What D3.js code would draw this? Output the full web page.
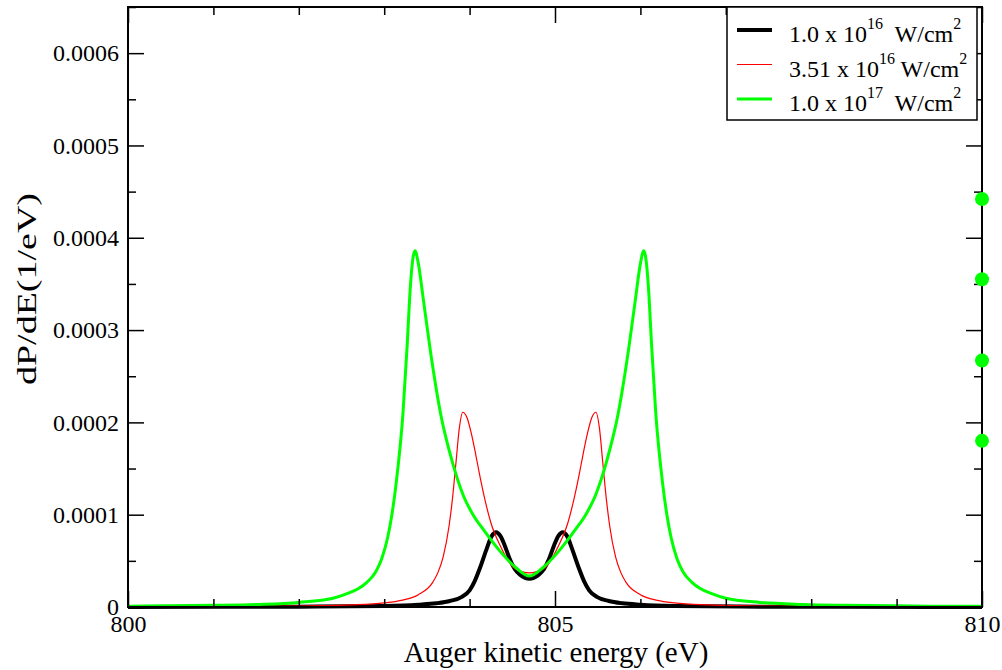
<!DOCTYPE html>
<meta charset="utf-8">
<style>
  body { margin: 0; background: #fff; }
  svg text { font-family: "Liberation Serif", "Times New Roman", serif; }
</style>
<body>
<script src="https://d3js.org/d3.v7.min.js"></script>
<script>

// ---- data (energy in eV, dP/dE in 1/eV) ----
var energyBlack = [800, 802, 803, 803.4, 803.61, 803.77, 803.91, 804.0, 804.06, 804.12, 804.2, 804.26, 804.31, 804.36, 804.41, 804.47, 804.53, 804.59, 804.65, 804.7,
                   804.75, 804.81, 804.87, 804.93, 804.99, 805.04, 805.09, 805.14, 805.2, 805.28, 805.34, 805.4, 805.49, 805.63, 805.79, 806.0, 806.4, 807.4, 809.4, 810];
var dpdeBlack = [0.001e-4, 0.004e-4, 0.012e-4, 0.025e-4, 0.04e-4, 0.065e-4, 0.11e-4, 0.18e-4, 0.28e-4, 0.42e-4, 0.63e-4, 0.77e-4, 0.81e-4, 0.77e-4, 0.67e-4, 0.52e-4, 0.41e-4, 0.35e-4, 0.315e-4, 0.305e-4,
                 0.315e-4, 0.35e-4, 0.41e-4, 0.52e-4, 0.67e-4, 0.77e-4, 0.81e-4, 0.77e-4, 0.63e-4, 0.42e-4, 0.28e-4, 0.18e-4, 0.11e-4, 0.065e-4, 0.04e-4, 0.025e-4, 0.012e-4, 0.004e-4, 0.001e-4, 0.001e-4];

var energyRed = [800, 801, 802, 802.6, 803, 803.2, 803.4, 803.57, 803.63, 803.69, 803.76, 803.8, 803.84, 803.88, 803.92, 803.97, 804.02, 804.07, 804.12, 804.18, 804.25, 804.36, 804.51, 804.62, 804.7,
                 804.78, 804.89, 805.04, 805.15, 805.22, 805.28, 805.33, 805.38, 805.43, 805.48, 805.52, 805.56, 805.6, 805.64, 805.71, 805.77, 805.83, 806.0, 806.2, 806.4, 806.8, 807.4, 808.4, 809.4, 810];
var dpdeRed = [0.0025e-4, 0.0045e-4, 0.01e-4, 0.022e-4, 0.044e-4, 0.072e-4, 0.133e-4, 0.27e-4, 0.375e-4, 0.54e-4, 0.88e-4, 1.18e-4, 1.56e-4, 1.94e-4, 2.11e-4, 2.05e-4, 1.88e-4, 1.66e-4, 1.42e-4, 1.16e-4, 0.91e-4, 0.66e-4, 0.43e-4, 0.38e-4, 0.37e-4,
               0.38e-4, 0.43e-4, 0.66e-4, 0.91e-4, 1.16e-4, 1.42e-4, 1.66e-4, 1.88e-4, 2.05e-4, 2.11e-4, 1.94e-4, 1.56e-4, 1.18e-4, 0.88e-4, 0.54e-4, 0.375e-4, 0.27e-4, 0.133e-4, 0.072e-4, 0.044e-4, 0.022e-4, 0.01e-4, 0.0045e-4, 0.0025e-4, 0.002e-4];

var energyGreen = [800, 801, 801.5, 802, 802.4, 802.55, 802.7, 802.8, 802.9, 802.97, 803.04, 803.09, 803.14, 803.22, 803.27, 803.3, 803.34, 803.36, 803.4, 803.46, 803.54, 803.61, 803.67, 803.76, 803.86, 803.93, 804.04, 804.16, 804.36, 804.55, 804.7,
                   804.85, 805.04, 805.24, 805.36, 805.47, 805.54, 805.64, 805.73, 805.79, 805.86, 805.94, 806.0, 806.04, 806.06, 806.1, 806.13, 806.18, 806.26, 806.31, 806.36, 806.43, 806.5, 806.6, 806.7, 806.85, 807.0, 807.4, 807.9, 808.4, 809.4, 810];
var dpdeGreen = [0.009e-4, 0.018e-4, 0.028e-4, 0.05e-4, 0.095e-4, 0.14e-4, 0.2e-4, 0.27e-4, 0.38e-4, 0.52e-4, 0.75e-4, 1.0e-4, 1.34e-4, 2.1e-4, 2.85e-4, 3.38e-4, 3.8e-4, 3.86e-4, 3.72e-4, 3.32e-4, 2.78e-4, 2.36e-4, 2.05e-4, 1.7e-4, 1.38e-4, 1.2e-4, 1.0e-4, 0.84e-4, 0.6e-4, 0.42e-4, 0.335e-4,
                 0.42e-4, 0.6e-4, 0.84e-4, 1.0e-4, 1.2e-4, 1.38e-4, 1.7e-4, 2.05e-4, 2.36e-4, 2.78e-4, 3.32e-4, 3.72e-4, 3.86e-4, 3.8e-4, 3.38e-4, 2.85e-4, 2.1e-4, 1.34e-4, 1.0e-4, 0.75e-4, 0.52e-4, 0.38e-4, 0.27e-4, 0.2e-4, 0.14e-4, 0.095e-4, 0.05e-4, 0.028e-4, 0.018e-4, 0.009e-4, 0.007e-4];

// the green dots sitting on the right edge
var energyDots = [810, 810, 810, 810];
var dpdeDots = [4.42e-4, 3.55e-4, 2.67e-4, 1.80e-4];

var xMajorTicks = [800, 805, 810];
var xMinorTicks = [801, 802, 803, 804, 806, 807, 808, 809];
var yMajorTicks = [0, 0.0001, 0.0002, 0.0003, 0.0004, 0.0005, 0.0006];
var yTickLabels = ["0", "0.0001", "0.0002", "0.0003", "0.0004", "0.0005", "0.0006"];
var yMinorTicks = [0.00005, 0.00015, 0.00025, 0.00035, 0.00045, 0.00055, 0.00065];

// ---- layout ----
var margin = {top: 7, right: 20, bottom: 63, left: 128},
    width = 1002 - margin.left - margin.right,
    height = 670 - margin.top - margin.bottom;

var x = d3.scaleLinear().domain([800, 810]).range([0, width]);
var y = d3.scaleLinear().domain([0, 0.00065]).range([height, 0]);

var root = d3.select("body").append("svg")
    .attr("width", 1002)
    .attr("height", 670);
var svg = root.append("g")
    .attr("transform", "translate(" + margin.left + "," + margin.top + ")");

var line = d3.line()
    .x(function(d) { return x(d[0]); })
    .y(function(d) { return y(d[1]); })
    .curve(d3.curveMonotoneX);

// curves
var series = [
  {xs: energyBlack, ys: dpdeBlack, color: "#000000", w: 4},
  {xs: energyRed,   ys: dpdeRed,   color: "#ff0000", w: 1.2},
  {xs: energyGreen, ys: dpdeGreen, color: "#00ff00", w: 3}
];
series.forEach(function(s) {
  svg.append("path")
    .datum(d3.zip(s.xs, s.ys))
    .attr("fill", "none")
    .attr("stroke", s.color)
    .attr("stroke-width", s.w)
    .attr("stroke-linejoin", "round")
    .attr("d", line);
});

// ticks on all four sides, pointing inward
function ticks(g, axis) {
  g.call(axis);
  g.select(".domain").remove();
  g.selectAll("line").attr("stroke", "#000").attr("stroke-width", 1.5);
  g.selectAll("text").attr("font-size", 24).attr("fill", "#000")
    .style("font-family", "'Liberation Serif', 'Times New Roman', serif");
}

svg.append("g").attr("transform", "translate(0," + height + ")")
  .call(ticks, d3.axisBottom(x).tickValues(xMajorTicks).tickSize(-16).tickPadding(8).tickFormat(d3.format("d")));
svg.append("g").attr("transform", "translate(0," + height + ")")
  .call(ticks, d3.axisBottom(x).tickValues(xMinorTicks).tickSize(-8).tickFormat(""));
svg.append("g")
  .call(ticks, d3.axisTop(x).tickValues(xMajorTicks).tickSize(-16).tickFormat(""));
svg.append("g")
  .call(ticks, d3.axisTop(x).tickValues(xMinorTicks).tickSize(-8).tickFormat(""));

svg.append("g")
  .call(ticks, d3.axisLeft(y).tickValues(yMajorTicks).tickSize(-16).tickPadding(9)
        .tickFormat(function(d, i) { return yTickLabels[i]; }));
svg.append("g")
  .call(ticks, d3.axisLeft(y).tickValues(yMinorTicks).tickSize(-8).tickFormat(""));
svg.append("g").attr("transform", "translate(" + width + ",0)")
  .call(ticks, d3.axisRight(y).tickValues(yMajorTicks).tickSize(-16).tickFormat(""));
svg.append("g").attr("transform", "translate(" + width + ",0)")
  .call(ticks, d3.axisRight(y).tickValues(yMinorTicks).tickSize(-8).tickFormat(""));

// frame
svg.append("rect")
  .attr("width", width)
  .attr("height", height)
  .attr("fill", "none")
  .attr("stroke", "#000")
  .attr("stroke-width", 2);

// dots on the right edge
svg.selectAll("circle.dot")
  .data(d3.zip(energyDots, dpdeDots))
  .enter().append("circle")
  .attr("class", "dot")
  .attr("cx", function(d) { return x(d[0]); })
  .attr("cy", function(d) { return y(d[1]); })
  .attr("r", 7)
  .attr("fill", "#00ff00");

// axis titles
svg.append("text")
  .attr("x", width / 2 + 1)
  .attr("y", height + 55)
  .attr("text-anchor", "middle")
  .attr("font-size", 29)
  .text("Auger kinetic energy (eV)");

root.append("text")
  .attr("transform", "translate(36,289) rotate(-90)")
  .attr("text-anchor", "middle")
  .attr("font-size", 28)
  .attr("textLength", 192)
  .attr("lengthAdjust", "spacingAndGlyphs")
  .text("dP/dE(1/eV)");

// legend
var legendItems = [
  {color: "#000000", w: 4, base: "1.0 x 10", exp: "16", unit: "  W/cm"},
  {color: "#ff0000", w: 1.2, base: "3.51 x 10", exp: "16", unit: " W/cm"},
  {color: "#00ff00", w: 3, base: "1.0 x 10", exp: "17", unit: "  W/cm"}
];
var legend = root.append("g");
legend.append("rect")
  .attr("x", 727).attr("y", 7)
  .attr("width", 250).attr("height", 113)
  .attr("fill", "#fff")
  .attr("stroke", "#000")
  .attr("stroke-width", 1.5);

legendItems.forEach(function(d, i) {
  var cy = 30 + i * 34.5;
  legend.append("line")
    .attr("x1", 737).attr("x2", 772)
    .attr("y1", cy).attr("y2", cy)
    .attr("stroke", d.color)
    .attr("stroke-width", d.w);
  var t = legend.append("text")
    .attr("x", 789)
    .attr("y", cy + 12)
    .attr("font-size", 24)
    .style("white-space", "pre");
  t.append("tspan").text(d.base);
  t.append("tspan").attr("font-size", 16).attr("dy", -13).text(d.exp);
  t.append("tspan").attr("dy", 13).text(d.unit);
  t.append("tspan").attr("font-size", 16).attr("dy", -13).text("2");
});

</script>
</body>
